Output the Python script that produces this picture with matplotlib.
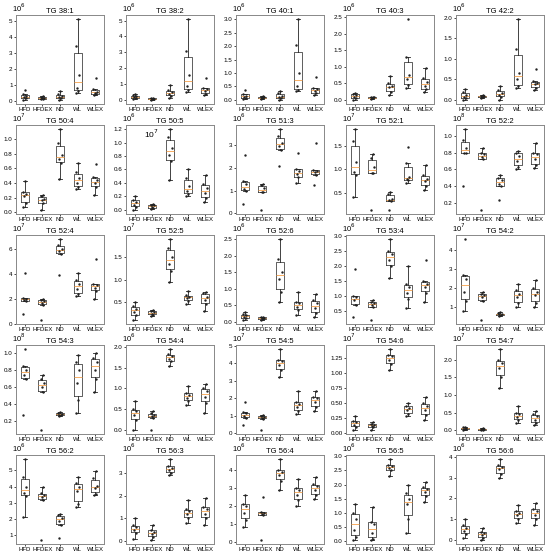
import matplotlib
matplotlib.use('Agg')
import matplotlib.pyplot as plt
import numpy as np

plt.rcParams['font.family'] = ['Liberation Sans', 'DejaVu Sans']

groups = ['HFD', 'HFDEX', 'ND', 'WL', 'WLEX']

titles = ['TG 38:1', 'TG 38:2', 'TG 40:1', 'TG 40:3', 'TG 42:2',
          'TG 50:4', 'TG 50:5', 'TG 51:3', 'TG 52:1', 'TG 52:2',
          'TG 52:4', 'TG 52:5', 'TG 52:6', 'TG 53:4', 'TG 54:2',
          'TG 54:3', 'TG 54:4', 'TG 54:5', 'TG 54:6', 'TG 54:7',
          'TG 56:2', 'TG 56:3', 'TG 56:4', 'TG 56:5', 'TG 56:6']

# exponent shown in the top-left corner of each panel
exponents = [6, 6, 6, 6, 6,
             7, 6, 6, 7, 8,
             7, 7, 6, 6, 7,
             8, 6, 7, 7, 7,
             6, 6, 6, 6, 6]

# values per panel, one list per group (HFD, HFDEX, ND, WL, WLEX), scaled units
values = [
    [[0.05, 0.15, 0.22, 0.3, 0.4, 0.7], [0.08, 0.12, 0.17, 0.2, 0.25, 0.28],
     [0.05, 0.15, 0.22, 0.3, 0.4, 0.58], [0.5, 0.6, 0.8, 1.6, 3.4, 5.1],
     [0.35, 0.42, 0.5, 0.55, 0.72, 1.4]],
    [[0.05, 0.12, 0.18, 0.22, 0.3, 0.38], [0.0, 0.03, 0.05, 0.08, 0.1, 0.12],
     [0.15, 0.25, 0.4, 0.5, 0.6, 0.95], [0.5, 0.6, 0.85, 1.55, 3.1, 5.1],
     [0.3, 0.4, 0.55, 0.7, 0.75, 1.4]],
    [[0.02, 0.08, 0.12, 0.15, 0.22, 0.38], [0.03, 0.06, 0.08, 0.1, 0.12, 0.15],
     [0.0, 0.06, 0.1, 0.15, 0.25, 0.32], [0.33, 0.38, 0.5, 1.0, 2.05, 3.0],
     [0.18, 0.25, 0.32, 0.4, 0.45, 0.85]],
    [[0.0, 0.05, 0.1, 0.15, 0.18, 0.2], [0.03, 0.05, 0.06, 0.08, 0.09, 0.1],
     [0.15, 0.25, 0.38, 0.42, 0.5, 0.72], [0.35, 0.45, 0.62, 0.75, 1.3, 2.45],
     [0.25, 0.32, 0.42, 0.55, 0.65, 0.98]],
    [[0.0, 0.05, 0.08, 0.12, 0.2, 0.27], [0.05, 0.07, 0.08, 0.09, 0.1, 0.11],
     [0.0, 0.08, 0.12, 0.17, 0.25, 0.33], [0.28, 0.33, 0.5, 0.65, 1.25, 1.97],
     [0.25, 0.3, 0.38, 0.42, 0.45, 0.75]],

    [[0.07, 0.12, 0.22, 0.25, 0.28, 0.43], [0.03, 0.12, 0.16, 0.18, 0.22, 0.24],
     [0.45, 0.68, 0.73, 0.78, 0.95, 1.14], [0.32, 0.35, 0.4, 0.47, 0.55, 0.68],
     [0.23, 0.35, 0.4, 0.44, 0.48, 0.66]],
    [[0.0, 0.05, 0.08, 0.12, 0.15, 0.2], [0.02, 0.03, 0.05, 0.07, 0.08, 0.09],
     [0.45, 0.72, 0.82, 0.92, 1.08, 1.2], [0.2, 0.24, 0.28, 0.35, 0.47, 0.6],
     [0.12, 0.18, 0.25, 0.32, 0.38, 0.52]],
    [[0.4, 1.0, 1.05, 1.3, 1.42, 2.55], [0.15, 0.92, 0.95, 1.1, 1.25, 1.28],
     [2.1, 2.8, 2.95, 3.1, 3.4, 3.7], [1.35, 1.58, 1.72, 1.85, 1.95, 2.65],
     [1.25, 1.68, 1.8, 1.85, 1.92, 3.1]],
    [[0.43, 0.88, 0.95, 1.15, 1.6, 1.85], [0.15, 0.92, 0.93, 1.05, 1.25, 1.32],
     [0.15, 0.33, 0.35, 0.38, 0.48, 0.52], [0.72, 0.78, 0.8, 0.85, 1.13, 1.48],
     [0.57, 0.65, 0.75, 0.8, 0.88, 1.1]],
    [[0.4, 0.79, 0.8, 0.86, 0.95, 1.08], [0.12, 0.72, 0.75, 0.78, 0.8, 0.86],
     [0.24, 0.4, 0.43, 0.48, 0.5, 0.53], [0.6, 0.63, 0.7, 0.76, 0.8, 0.82],
     [0.62, 0.65, 0.72, 0.78, 0.8, 0.91]],

    [[0.8, 1.8, 1.9, 2.0, 2.1, 4.1], [0.3, 1.5, 1.7, 1.8, 1.9, 2.0],
     [3.9, 5.6, 5.8, 6.0, 6.3, 6.8], [2.2, 2.4, 2.8, 3.2, 3.5, 4.1],
     [2.0, 2.6, 2.9, 3.1, 3.2, 5.2]],
    [[0.1, 0.2, 0.28, 0.35, 0.4, 0.5], [0.18, 0.22, 0.24, 0.28, 0.3, 0.32],
     [0.95, 1.2, 1.35, 1.5, 1.7, 1.9], [0.45, 0.52, 0.58, 0.62, 0.65, 0.75],
     [0.3, 0.45, 0.55, 0.62, 0.7, 0.72]],
    [[0.05, 0.1, 0.15, 0.2, 0.22, 0.3], [0.05, 0.08, 0.1, 0.12, 0.13, 0.15],
     [0.6, 0.9, 1.3, 1.5, 1.9, 2.5], [0.2, 0.35, 0.45, 0.55, 0.6, 0.9],
     [0.15, 0.25, 0.4, 0.55, 0.65, 0.85]],
    [[0.3, 0.7, 0.85, 0.95, 1.0, 1.9], [0.2, 0.62, 0.7, 0.75, 0.8, 0.85],
     [1.6, 2.0, 2.2, 2.4, 2.5, 2.9], [0.6, 0.9, 1.1, 1.3, 1.4, 2.0],
     [0.8, 1.1, 1.3, 1.4, 1.5, 2.2]],
    [[0.8, 1.3, 1.8, 2.5, 2.7, 4.6], [0.3, 1.3, 1.5, 1.6, 1.7, 1.8],
     [0.5, 0.55, 0.6, 0.62, 0.65, 0.7], [1.0, 1.2, 1.5, 1.7, 1.9, 2.2],
     [1.0, 1.2, 1.6, 1.8, 2.0, 2.4]],

    [[0.28, 0.7, 0.75, 0.8, 0.85, 1.05], [0.1, 0.55, 0.6, 0.65, 0.7, 0.75],
     [0.26, 0.27, 0.28, 0.29, 0.3, 0.31], [0.3, 0.45, 0.65, 0.8, 0.9, 0.98],
     [0.55, 0.7, 0.8, 0.9, 0.95, 1.0]],
    [[0.0, 0.25, 0.35, 0.45, 0.5, 0.7], [0.0, 0.3, 0.33, 0.36, 0.4, 0.45],
     [1.55, 1.65, 1.72, 1.78, 1.82, 1.95], [0.6, 0.7, 0.78, 0.85, 0.9, 1.05],
     [0.4, 0.65, 0.8, 0.95, 1.0, 1.1]],
    [[0.5, 0.9, 1.0, 1.15, 1.2, 1.8], [0.2, 0.85, 0.9, 0.95, 1.0, 1.05],
     [3.2, 3.6, 3.9, 4.1, 4.2, 4.8], [1.1, 1.3, 1.5, 1.7, 1.8, 2.4],
     [1.3, 1.5, 1.8, 2.0, 2.1, 2.4]],
    [[0.05, 0.1, 0.14, 0.18, 0.2, 0.28], [0.05, 0.1, 0.12, 0.14, 0.15, 0.18],
     [1.05, 1.15, 1.22, 1.28, 1.3, 1.4], [0.28, 0.32, 0.38, 0.42, 0.45, 0.5],
     [0.22, 0.3, 0.38, 0.45, 0.5, 0.6]],
    [[0.02, 0.04, 0.05, 0.06, 0.08, 0.1], [0.01, 0.02, 0.03, 0.04, 0.05, 0.06],
     [1.2, 1.5, 1.75, 1.9, 2.0, 2.3], [0.2, 0.3, 0.38, 0.45, 0.5, 0.7],
     [0.15, 0.2, 0.3, 0.4, 0.45, 0.55]],

    [[2.1, 3.4, 3.6, 4.0, 4.6, 5.7], [0.7, 3.15, 3.35, 3.45, 3.6, 4.0],
     [0.8, 1.65, 1.9, 2.05, 2.25, 2.3], [2.75, 2.9, 3.7, 4.0, 4.25, 4.6],
     [3.5, 3.55, 3.9, 4.05, 4.5, 4.95]],
    [[0.1, 0.35, 0.5, 0.6, 0.7, 1.0], [0.05, 0.2, 0.3, 0.4, 0.5, 0.7],
     [2.9, 3.0, 3.1, 3.2, 3.3, 3.6], [0.8, 1.0, 1.2, 1.3, 1.4, 1.8],
     [0.7, 1.0, 1.2, 1.4, 1.5, 1.9]],
    [[0.8, 1.2, 1.6, 2.0, 2.1, 2.6], [0.1, 1.5, 1.55, 1.6, 1.65, 2.5],
     [2.9, 3.4, 3.7, 3.9, 4.0, 4.6], [2.0, 2.3, 2.6, 2.9, 3.0, 3.5],
     [2.4, 2.6, 2.9, 3.1, 3.2, 3.6]],
    [[0.05, 0.15, 0.4, 0.8, 1.0, 1.3], [0.05, 0.1, 0.3, 0.6, 0.7, 1.2],
     [2.3, 2.5, 2.6, 2.65, 2.7, 2.9], [0.3, 0.8, 1.3, 1.5, 1.7, 2.0],
     [1.4, 1.6, 1.75, 1.85, 1.9, 2.1]],
    [[0.1, 0.3, 0.45, 0.6, 0.7, 1.0], [0.0, 0.1, 0.25, 0.35, 0.4, 0.6],
     [3.0, 3.2, 3.4, 3.5, 3.6, 3.9], [0.8, 1.0, 1.2, 1.3, 1.4, 1.7],
     [0.7, 1.0, 1.2, 1.4, 1.5, 1.8]],
]

jitter = np.array([-0.08, 0.05, -0.03, 0.09, -0.1, 0.02])

fig = plt.figure(figsize=(5.5, 5.56), dpi=100)
W, H = 550.0, 556.0

for i in range(25):
    r, c = divmod(i, 5)
    left = (16 + 110 * c) / W
    top = (15 + 110 * r) / H
    ax = fig.add_axes([left, 1 - top - 89 / H, 88 / W, 89 / H])
    data = values[i]
    ax.boxplot(data, positions=range(1, 6), widths=0.45, showfliers=False,
               boxprops=dict(color='#444444', linewidth=0.6),
               whiskerprops=dict(color='#222222', linewidth=0.6),
               capprops=dict(color='#222222', linewidth=0.6),
               medianprops=dict(color='#f5a04a', linewidth=0.6))
    for k, d in enumerate(data):
        ax.scatter(k + 1 + jitter[:len(d)], d, s=3, color='#222222', zorder=3,
                   linewidths=0)
    ax.set_xticks(range(1, 6))
    ax.set_xticklabels(groups, fontsize=4.3)
    ax.tick_params(axis='y', labelsize=4.5, length=1.5, width=0.5, pad=1)
    ax.tick_params(axis='x', length=1.5, width=0.5, pad=0.5)
    ax.set_xlim(0.5, 5.5)
    for sp in ax.spines.values():
        sp.set_color('#888888')
        sp.set_linewidth(0.7)
    ax.set_title(titles[i], fontsize=5.5, pad=1.2)
    ax.text(-0.05, 1.01, '10$^{%d}$' % exponents[i], transform=ax.transAxes,
            fontsize=5.5, ha='left', va='bottom')
    if i == 6:
        ax.text(0.2, 0.85, '10$^7$', transform=ax.transAxes, fontsize=6)

plt.savefig('out.png', dpi=100)
